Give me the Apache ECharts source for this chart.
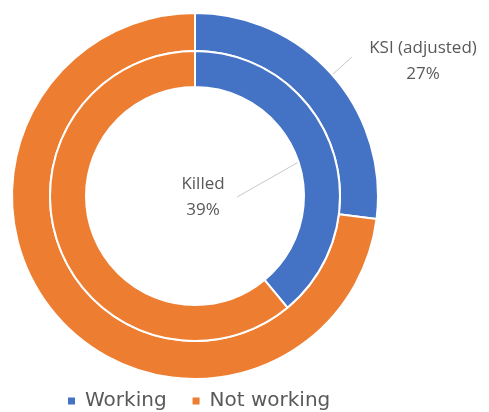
<!DOCTYPE html>
<html>
<head>
<meta charset="utf-8">
<script src="https://cdn.jsdelivr.net/npm/echarts@6/dist/echarts.min.js"></script>
<style>
  html, body { margin: 0; padding: 0; background: #ffffff; }
  #chart { width: 489px; height: 412px; }
</style>
</head>
<body>
<div id="chart"></div>
<script>
// Share of casualties by working status
const categories = ['Working', 'Not working'];
const ringNames = ['KSI (adjusted)', 'Killed'];
const ksiValues = [27, 73];
const killedValues = [39, 61];

const colors = ['#4472C4', '#ED7D31'];
const LABEL_FONT = '"Open Sans", sans-serif';
const LEGEND_FONT = '"DejaVu Sans", sans-serif';
const CX = 195, CY = 196;

// where each ring's label sits and where its leader line ends
const labelSpots = [
  { x: 423, y: 61, lineEnd: [352, 57], lineR: 165 },
  { x: 203, y: 197, lineEnd: [237, 197], lineR: 127 }
];

function midAngleDeg(values) {
  const total = values.reduce((a, b) => a + b, 0);
  return values[0] / total / 2 * 360;
}

function buildData(values) {
  return categories.map((name, i) => ({
    name,
    value: values[i],
    itemStyle: { color: colors[i] },
    label: { show: i === 0 },
    labelLine: { show: i === 0 }
  }));
}

function ring(name, values, radius, spot) {
  const a = midAngleDeg(values) * Math.PI / 180;
  const start = [CX + spot.lineR * Math.sin(a), CY - spot.lineR * Math.cos(a)];
  return {
    type: 'pie',
    name,
    center: [CX, CY],
    radius,
    startAngle: 90,
    clockwise: true,
    avoidLabelOverlap: false,
    emphasis: { disabled: true },
    itemStyle: { borderColor: '#ffffff', borderWidth: 2 },
    label: {
      position: 'outside',
      formatter: '{a}\n{d}%',
      fontFamily: LABEL_FONT,
      fontSize: 17,
      lineHeight: 26,
      color: '#595959',
      align: 'center'
    },
    labelLine: { lineStyle: { color: '#c8c8c8', width: 1 } },
    labelLayout: () => ({
      x: spot.x,
      y: spot.y,
      align: 'center',
      verticalAlign: 'middle',
      labelLinePoints: [start, spot.lineEnd]
    }),
    data: buildData(values)
  };
}

const chart = echarts.init(document.getElementById('chart'), null, { renderer: 'canvas' });
chart.setOption({
  animation: false,
  backgroundColor: '#ffffff',
  legend: {
    data: categories,
    left: 61,
    top: 386,
    icon: 'rect',
    itemWidth: 9,
    itemHeight: 9,
    itemGap: 24,
    textStyle: {
      fontFamily: LEGEND_FONT,
      fontSize: 20,
      color: '#595959',
      padding: [0, 0, 0, 4]
    }
  },
  series: [
    ring(ringNames[0], ksiValues, [145, 183], labelSpots[0]),
    ring(ringNames[1], killedValues, [109, 145], labelSpots[1])
  ]
});
</script>
</body>
</html>
